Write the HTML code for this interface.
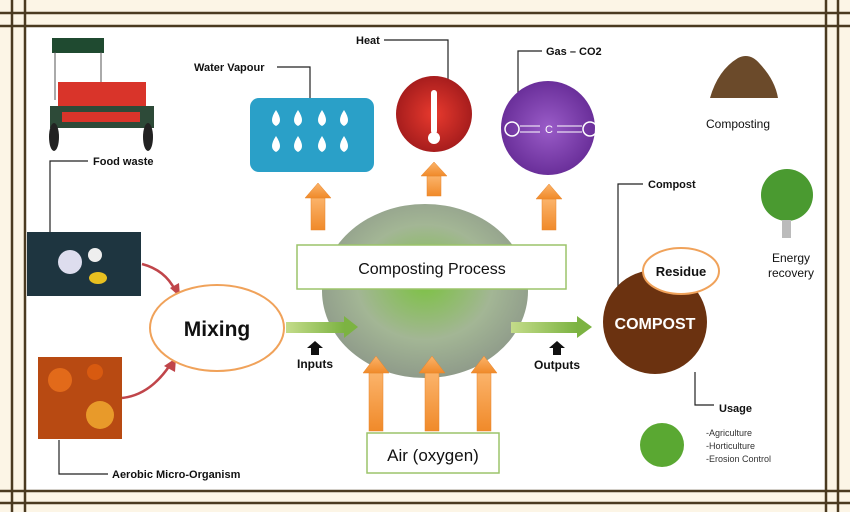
<!DOCTYPE html>
<html><head><meta charset="utf-8"><style>
html,body{margin:0;padding:0;background:#fcf5e6;}
svg{display:block;font-family:"Liberation Sans",sans-serif;}
</style></head><body>
<svg width="850" height="512" viewBox="0 0 850 512" xmlns="http://www.w3.org/2000/svg">
<defs>
<radialGradient id="g1" cx="50%" cy="45%" r="55%"><stop offset="0" stop-color="#7cc242"/><stop offset="0.6" stop-color="#a3b695"/><stop offset="1" stop-color="#8f9b8a"/></radialGradient>
<linearGradient id="ga" x1="0" x2="0" y1="0" y2="1"><stop offset="0" stop-color="#fbb36a"/><stop offset="1" stop-color="#f08a2a"/></linearGradient>
<linearGradient id="gg" x1="0" x2="1"><stop offset="0" stop-color="#c4dc8a"/><stop offset="1" stop-color="#7cb342"/></linearGradient>
<radialGradient id="gr"><stop offset="0" stop-color="#e83a2e"/><stop offset="1" stop-color="#a71d1d"/></radialGradient>
<radialGradient id="gp"><stop offset="0" stop-color="#9a5cc8"/><stop offset="1" stop-color="#6a2f9a"/></radialGradient>
</defs>
<rect width="850" height="512" fill="#fcf5e6"/>
<rect x="26" y="27" width="800" height="463" fill="#fff"/>
<g stroke="#4a3a20" stroke-width="2.5">
<line x1="0" y1="13" x2="850" y2="13"/><line x1="0" y1="26" x2="850" y2="26"/>
<line x1="0" y1="491" x2="850" y2="491"/><line x1="0" y1="503" x2="850" y2="503"/>
<line x1="12" y1="0" x2="12" y2="512"/><line x1="25" y1="0" x2="25" y2="512"/>
<line x1="826" y1="0" x2="826" y2="512"/><line x1="838" y1="0" x2="838" y2="512"/>
</g>
<!-- tractor -->
<rect x="52" y="38" width="52" height="15" fill="#1f4a30"/>
<line x1="55" y1="52" x2="55" y2="100" stroke="#555"/><line x1="101" y1="52" x2="101" y2="100" stroke="#555"/>
<rect x="58" y="82" width="88" height="26" fill="#d9342a"/>
<rect x="50" y="106" width="104" height="22" fill="#2d4a38"/>
<rect x="62" y="112" width="78" height="10" fill="#d9342a"/>
<ellipse cx="54" cy="137" rx="5" ry="14" fill="#222"/><ellipse cx="148" cy="137" rx="5" ry="14" fill="#222"/>
<text x="93" y="165" font-size="11" font-weight="bold" fill="#111">Food waste</text>
<polyline points="88,161 50,161 50,232" fill="none" stroke="#222" stroke-width="1.2"/>
<rect x="27" y="232" width="114" height="64" fill="#1e3540"/>
<circle cx="70" cy="262" r="12" fill="#dde"/><circle cx="95" cy="255" r="7" fill="#eee"/><ellipse cx="98" cy="278" rx="9" ry="6" fill="#e8c020"/>
<rect x="38" y="357" width="84" height="82" fill="#b84a12"/>
<circle cx="60" cy="380" r="12" fill="#e26a1a"/><circle cx="100" cy="415" r="14" fill="#e89a2a"/><circle cx="95" cy="372" r="8" fill="#d85a10"/>
<polyline points="59,440 59,474 108,474" fill="none" stroke="#222" stroke-width="1.2"/>
<text x="112" y="478" font-size="11" font-weight="bold" fill="#111">Aerobic Micro-Organism</text>
<path d="M142,264 Q165,270 175,290" fill="none" stroke="#c0454a" stroke-width="2.5"/>
<polygon points="170,288 180,297 179,283" fill="#c0454a"/>
<path d="M122,398 Q150,395 170,365" fill="none" stroke="#c0454a" stroke-width="2.5"/>
<polygon points="164,366 176,358 175,372" fill="#c0454a"/>
<ellipse cx="217" cy="328" rx="67" ry="43" fill="#fff" stroke="#f0a25a" stroke-width="2"/>
<text x="217" y="336" font-size="21" font-weight="bold" text-anchor="middle" fill="#111">Mixing</text>
<!-- big circle -->
<ellipse cx="425" cy="291" rx="103" ry="87" fill="url(#g1)"/>
<rect x="286" y="322" width="58" height="11" fill="url(#gg)"/><polygon points="344,316 358,327 344,338" fill="#7cb342"/>
<rect x="511" y="322" width="66" height="11" fill="url(#gg)"/><polygon points="577,316 592,327 577,338" fill="#7cb342"/>
<polygon points="307,348 315,341 323,348 319,348 319,355 311,355 311,348" fill="#111"/>
<text x="315" y="368" font-size="12" font-weight="bold" text-anchor="middle" fill="#111">Inputs</text>
<polygon points="549,348 557,341 565,348 561,348 561,355 553,355 553,348" fill="#111"/>
<text x="557" y="369" font-size="12" font-weight="bold" text-anchor="middle" fill="#111">Outputs</text>
<rect x="297" y="245" width="269" height="44" fill="#fff" stroke="#9cc46a" stroke-width="1.5"/>
<text x="432" y="274" font-size="16" text-anchor="middle" fill="#111">Composting Process</text>
<g fill="url(#ga)" stroke="#e8852a" stroke-width="0.5">
<rect x="311" y="198" width="14" height="32"/><polygon points="305,198 318,183 331,198"/>
<rect x="427" y="176" width="14" height="20"/><polygon points="421,176 434,162 447,176"/>
<rect x="542" y="199" width="14" height="31"/><polygon points="536,199 549,184 562,199"/>
<rect x="369" y="373" width="14" height="58"/><polygon points="363,373 376,356 389,373"/>
<rect x="425" y="373" width="14" height="58"/><polygon points="419,373 432,356 445,373"/>
<rect x="477" y="373" width="14" height="58"/><polygon points="471,373 484,356 497,373"/>
</g>
<rect x="367" y="433" width="132" height="40" fill="#fff" stroke="#9cc46a" stroke-width="1.5"/>
<text x="433" y="461" font-size="17" text-anchor="middle" fill="#111">Air (oxygen)</text>
<text x="194" y="71" font-size="11" font-weight="bold" fill="#111">Water Vapour</text>
<polyline points="277,67 310,67 310,120" fill="none" stroke="#222" stroke-width="1.2"/>
<rect x="250" y="98" width="124" height="74" rx="9" fill="#2aa0c8"/>
<g fill="#fff">
<g id="d"><path d="M276,110 q-8,12 0,16 q8,-4 0,-16z"/></g>
<use href="#d" x="22"/><use href="#d" x="46"/><use href="#d" x="68"/>
<use href="#d" y="26"/><use href="#d" x="22" y="26"/><use href="#d" x="46" y="26"/><use href="#d" x="68" y="26"/>
</g>
<text x="356" y="44" font-size="11" font-weight="bold" fill="#111">Heat</text>
<polyline points="384,40 448,40 448,100" fill="none" stroke="#222" stroke-width="1.2"/>
<circle cx="434" cy="114" r="38" fill="url(#gr)"/>
<rect x="431" y="90" width="6" height="44" rx="3" fill="#fff"/><circle cx="434" cy="138" r="6" fill="#fff"/>
<text x="546" y="55" font-size="11" font-weight="bold" fill="#111">Gas – CO2</text>
<polyline points="542,51 518,51 518,100" fill="none" stroke="#222" stroke-width="1.2"/>
<circle cx="548" cy="128" r="47" fill="url(#gp)"/>
<circle cx="512" cy="129" r="7" fill="none" stroke="#fff" stroke-width="1.5"/>
<circle cx="590" cy="129" r="7" fill="none" stroke="#fff" stroke-width="1.5"/>
<line x1="520" y1="126" x2="540" y2="126" stroke="#fff"/><line x1="520" y1="132" x2="540" y2="132" stroke="#fff"/>
<line x1="557" y1="126" x2="582" y2="126" stroke="#fff"/><line x1="557" y1="132" x2="582" y2="132" stroke="#fff"/>
<text x="549" y="133" font-size="11" text-anchor="middle" fill="#fff">C</text>
<path d="M710,98 Q718,70 738,58 Q750,52 760,64 Q775,80 778,98 Z" fill="#6b4a2a"/>
<text x="738" y="128" font-size="12" text-anchor="middle" fill="#111">Composting</text>
<circle cx="787" cy="195" r="26" fill="#4a9a30"/><rect x="782" y="220" width="9" height="18" fill="#bbb"/>
<text x="791" y="262" font-size="12" text-anchor="middle" fill="#111">Energy</text>
<text x="791" y="277" font-size="12" text-anchor="middle" fill="#111">recovery</text>
<text x="648" y="188" font-size="11" font-weight="bold" fill="#111">Compost</text>
<polyline points="643,184 618,184 618,298" fill="none" stroke="#222" stroke-width="1.2"/>
<circle cx="655" cy="322" r="52" fill="#6b3210"/>
<text x="655" y="329" font-size="16" font-weight="bold" text-anchor="middle" fill="#fff">COMPOST</text>
<ellipse cx="681" cy="271" rx="38" ry="23" fill="#fff" stroke="#f0a25a" stroke-width="2"/>
<text x="681" y="276" font-size="13" font-weight="bold" text-anchor="middle" fill="#111">Residue</text>
<polyline points="695,372 695,405 714,405" fill="none" stroke="#222" stroke-width="1.2"/>
<text x="719" y="412" font-size="11" font-weight="bold" fill="#111">Usage</text>
<circle cx="662" cy="445" r="22" fill="#5aa832"/>
<text x="706" y="436" font-size="9" fill="#333">-Agriculture</text>
<text x="706" y="449" font-size="9" fill="#333">-Horticulture</text>
<text x="706" y="462" font-size="9" fill="#333">-Erosion Control</text>
</svg>
</body></html>
